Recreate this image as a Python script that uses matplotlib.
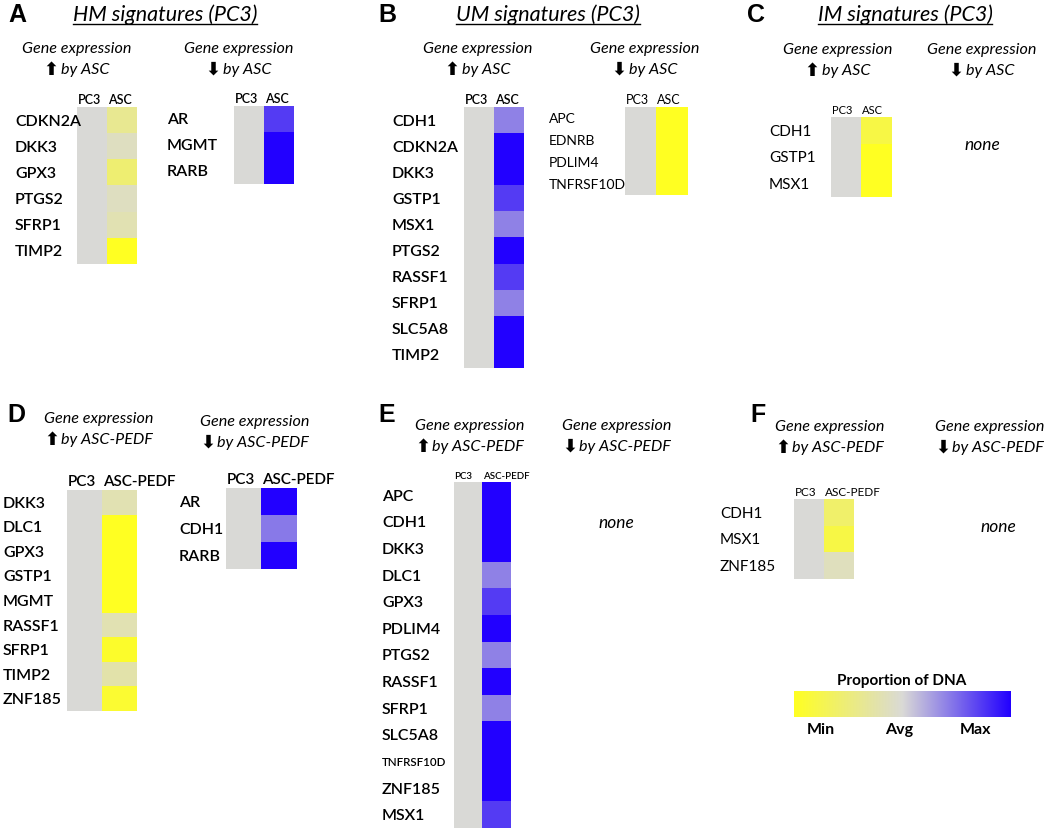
import numpy as np
import matplotlib
matplotlib.use("Agg")
import matplotlib.pyplot as plt
from matplotlib.colors import LinearSegmentedColormap
from matplotlib.lines import Line2D

# proportion of DNA, 0 = Min (yellow), 0.5 = Avg (grey), 1 = Max (blue)
AVG = 0.5

hm_up_genes = ["CDKN2A", "DKK3", "GPX3", "PTGS2", "SFRP1", "TIMP2"]
hm_up_asc = [0.31, 0.44, 0.22, 0.44, 0.40, 0.0]
hm_down_genes = ["AR", "MGMT", "RARB"]
hm_down_asc = [0.86, 1.0, 1.0]

um_up_genes = ["CDH1", "CDKN2A", "DKK3", "GSTP1", "MSX1", "PTGS2", "RASSF1", "SFRP1", "SLC5A8", "TIMP2"]
um_up_asc = [0.70, 1.0, 1.0, 0.86, 0.70, 1.0, 0.86, 0.70, 1.0, 1.0]
um_down_genes = ["APC", "EDNRB", "PDLIM4", "TNFRSF10D"]
um_down_asc = [0.0, 0.0, 0.0, 0.0]

im_up_genes = ["CDH1", "GSTP1", "MSX1"]
im_up_asc = [0.1, 0.0, 0.0]

d_up_genes = ["DKK3", "DLC1", "GPX3", "GSTP1", "MGMT", "RASSF1", "SFRP1", "TIMP2", "ZNF185"]
d_up_pedf = [0.40, 0.0, 0.0, 0.0, 0.0, 0.40, 0.03, 0.38, 0.05]
d_down_genes = ["AR", "CDH1", "RARB"]
d_down_pedf = [1.0, 0.72, 1.0]

e_up_genes = ["APC", "CDH1", "DKK3", "DLC1", "GPX3", "PDLIM4", "PTGS2", "RASSF1",
              "SFRP1", "SLC5A8", "TNFRSF10D", "ZNF185", "MSX1"]
e_up_pedf = [1.0, 1.0, 1.0, 0.70, 0.86, 1.0, 0.70, 1.0, 0.70, 1.0, 1.0, 1.0, 0.86]

f_up_genes = ["CDH1", "MSX1", "ZNF185"]
f_up_pedf = [0.2, 0.1, 0.43]

legend_labels = ["Min", "Avg", "Max"]

cmap = LinearSegmentedColormap.from_list("dna", ["#ffff22", "#dadad6", "#2200ff"])

W, H = 1050, 832
fig = plt.figure(figsize=(W / 100, H / 100), dpi=100)
LAB = ["Lato", "DejaVu Sans"]
renderer = fig.canvas.get_renderer()


def box(x1, y1, x2, y2):
    return [x1 / W, 1 - y2 / H, (x2 - x1) / W, (y2 - y1) / H]


def txt(x, y, s, **kw):
    kw.setdefault("family", LAB)
    return fig.text(x / W, 1 - y / H, s, **kw)


def heat(x1, y1, x2, y2, genes, vals, cols, label_x, fs=11, cfs=9, weight="normal", small=()):
    ax = fig.add_axes(box(x1, y1, x2, y2))
    data = np.column_stack([np.full(len(vals), AVG), vals])
    ax.imshow(data, cmap=cmap, vmin=0, vmax=1, aspect="auto", interpolation="nearest")
    ax.set_yticks(range(len(genes)))
    ax.set_yticklabels(genes, ha="left", fontsize=fs, family=LAB, weight=weight)
    for lab in ax.get_yticklabels():
        if lab.get_text() in small:
            lab.set_fontsize(fs * 0.72)
    ax.tick_params(axis="y", length=0, pad=(x1 - label_x) * 0.72)
    ax.xaxis.tick_top()
    ax.set_xticks([-0.48, 0.52])
    ax.set_xticklabels(cols, ha="left", fontsize=cfs, family=LAB, weight=weight)
    ax.tick_params(axis="x", length=0, pad=1)
    for s in ax.spines.values():
        s.set_visible(False)
    return ax


def header(x, y, up, who):
    txt(x, y, "Gene expression", ha="center", va="center", fontsize=11.6, style="italic")
    t = txt(x + 8, y + 21, "by " + who, ha="center", va="center", fontsize=11.6, style="italic")
    bb = t.get_window_extent(renderer)
    arrow = "\u2B06" if up else "\u2B07"
    fig.text((bb.x0 - 2) / W, 1 - (y + 21) / H, arrow, ha="right", va="center",
             fontsize=13, weight="bold", family="DejaVu Sans")


# panel letters
for letter, x, y in [("A", 8, 15), ("B", 378, 15), ("C", 747, 15),
                     ("D", 7, 415), ("E", 378, 415), ("F", 750, 415)]:
    txt(x, y, letter, ha="left", va="center", fontsize=18, weight="bold", family="Liberation Sans")

titles = []
for s, x in [("HM signatures (PC3)", 165), ("UM signatures (PC3)", 548), ("IM signatures (PC3)", 905)]:
    titles.append(txt(x, 15, s, ha="center", va="center", fontsize=15.5, style="italic"))

# A
header(77, 49, True, "ASC")
header(239, 49, False, "ASC")
heat(77, 107, 137, 264, hm_up_genes, hm_up_asc, ["PC3", "ASC"], 15, fs=11.5, weight="semibold")
heat(234, 106, 294, 184, hm_down_genes, hm_down_asc, ["PC3", "ASC"], 167, fs=11.5, weight="semibold")

# B
header(478, 49, True, "ASC")
header(645, 49, False, "ASC")
heat(464, 107, 524, 368, um_up_genes, um_up_asc, ["PC3", "ASC"], 392, fs=11.5, weight="semibold")
heat(625, 107, 688, 195, um_down_genes, um_down_asc, ["PC3", "ASC"], 549, fs=10)

# C
header(838, 50, True, "ASC")
header(982, 50, False, "ASC")
heat(831, 117, 891, 197, im_up_genes, im_up_asc, ["PC3", "ASC"], 769, fs=11, cfs=8)
txt(982, 145, "none", ha="center", va="center", fontsize=12.5, style="italic")

# D
header(99, 419, True, "ASC-PEDF")
header(255, 422, False, "ASC-PEDF")
heat(67, 490, 137, 711, d_up_genes, d_up_pedf, ["PC3", "ASC-PEDF"], 3, fs=11.5, cfs=11, weight="semibold")
heat(226, 488, 297, 569, d_down_genes, d_down_pedf, ["PC3", "ASC-PEDF"], 179, fs=11.5, cfs=11, weight="semibold")

# E
header(470, 426, True, "ASC-PEDF")
header(617, 426, False, "ASC-PEDF")
heat(454, 482, 511, 828, e_up_genes, e_up_pedf, ["PC3", "ASC-PEDF"], 382, fs=11.5, cfs=7,
     weight="semibold", small=("TNFRSF10D",))
txt(616, 523, "none", ha="center", va="center", fontsize=12.5, style="italic")

# F
header(830, 427, True, "ASC-PEDF")
header(990, 427, False, "ASC-PEDF")
heat(794, 499, 854, 579, f_up_genes, f_up_pedf, ["PC3", "ASC-PEDF"], 720, fs=11, cfs=8.5)
txt(998, 527, "none", ha="center", va="center", fontsize=12.5, style="italic")

# colour legend
cax = fig.add_axes(box(794, 691, 1011, 717))
cax.imshow(np.linspace(0, 1, 256)[None, :], cmap=cmap, aspect="auto", extent=[0, 1, 0, 1])
cax.set_xticks([0.125, 0.485, 0.835])
cax.set_xticklabels(legend_labels, fontsize=11.5, weight="bold", family=LAB)
cax.tick_params(axis="x", length=0, pad=4)
cax.set_yticks([])
for s in cax.spines.values():
    s.set_visible(False)
txt(902, 681, "Proportion of DNA", ha="center", va="center", fontsize=11, weight="bold")

# underline the panel titles
fig.canvas.draw()
for t in titles:
    bb = t.get_window_extent()
    y = (bb.y0 + 1) / H
    fig.add_artist(Line2D([bb.x0 / W, bb.x1 / W], [y, y], color="black", lw=1))

fig.savefig("out.png", dpi=100)
